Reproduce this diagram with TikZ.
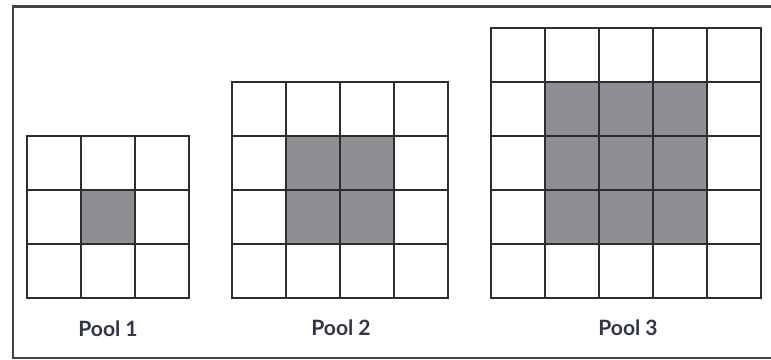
\documentclass[tikz,border=0pt]{standalone}
\usepackage{fontspec}
\setsansfont{Lato}
\definecolor{cellshade}{RGB}{142,143,147}
\definecolor{inkgray}{RGB}{45,45,48}
\definecolor{labelink}{RGB}{50,54,70}
\tikzset{
  outerframe/.style={line width=2pt, draw=inkgray!90, line cap=butt},
  cellgrid/.style={line width=2pt, draw=inkgray, step=54, line cap=rect},
  shaded/.style={fill=cellshade, draw=none},
  poollabel/.style={font=\sffamily\bfseries\fontsize{18}{21}\selectfont, text=labelink, inner sep=0pt},
}

\begin{document}
\begin{tikzpicture}[x=0.03cm, y=0.03cm]
\useasboundingbox (0,0) rectangle (771,360);
\draw[outerframe] (771,353.5) -- (13,353.5) -- (13,2) -- (771,2);
% pool 1
\begin{scope}[shift={(27,62)}]
\fill[shaded] (54,54) rectangle (108,108);
\draw[cellgrid] (0,0) grid (162,162);
\end{scope}
% pool 2
\begin{scope}[shift={(232,62)}]
\fill[shaded] (54,54) rectangle (162,162);
\draw[cellgrid] (0,0) grid (216,216);
\end{scope}
% pool 3
\begin{scope}[shift={(491,62)}]
\fill[shaded] (54,54) rectangle (216,216);
\draw[cellgrid] (0,0) grid (270,270);
\end{scope}
\node[poollabel] (poolone) at (108,31) {Pool 1};
\node[poollabel] (pooltwo) at (341,32) {Pool 2};
\node[poollabel] (poolthree) at (628,32) {Pool 3};
\end{tikzpicture}
\end{document}
